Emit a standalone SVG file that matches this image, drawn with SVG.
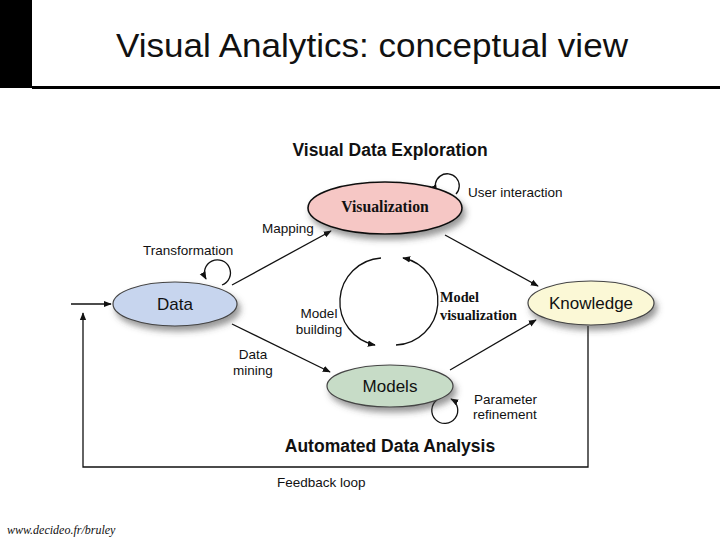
<svg xmlns="http://www.w3.org/2000/svg" width="720" height="540" viewBox="0 0 720 540">
<defs>
<style>
.sans{font-family:"Liberation Sans",Arial,sans-serif;fill:#111}
.lbl{font-size:13.5px}
.node-t{font-size:17px}
.head{font-size:17.5px;font-weight:bold}
.serif{font-family:"Liberation Serif","Times New Roman",serif;fill:#111}
.sb{font-weight:bold}
.conn{fill:none;stroke:#111;stroke-width:1.3}
.el{stroke:#444;stroke-width:1.2}
</style>
<marker id="ah" viewBox="0 0 10 10" refX="9" refY="5" markerWidth="8" markerHeight="8" markerUnits="userSpaceOnUse" orient="auto">
<path d="M0,1 L10,5 L0,9 Z" fill="#111"/>
</marker>
<filter id="sh" x="-20%" y="-30%" width="150%" height="180%">
<feDropShadow dx="3" dy="5" stdDeviation="3" flood-color="#444" flood-opacity="0.55"/>
</filter>
</defs>
<rect width="720" height="540" fill="#fff"/>
<rect x="0" y="0" width="32" height="88" fill="#000"/>
<rect x="32" y="86" width="688" height="3" fill="#000"/>
<text class="sans" x="372" y="57" font-size="33" text-anchor="middle" textLength="512" lengthAdjust="spacingAndGlyphs">Visual Analytics: conceptual view</text>

<text class="sans head" x="390" y="156" text-anchor="middle">Visual Data Exploration</text>
<text class="sans head" x="390" y="452" text-anchor="middle">Automated Data Analysis</text>

<g id="connectors">
<line class="conn" x1="232" y1="285" x2="331" y2="231" marker-end="url(#ah)"/>
<line class="conn" x1="445" y1="235" x2="538" y2="286" marker-end="url(#ah)"/>
<line class="conn" x1="232" y1="324" x2="330" y2="372" marker-end="url(#ah)"/>
<line class="conn" x1="450" y1="370" x2="536" y2="320" marker-end="url(#ah)"/>
<path class="conn" d="M381,258 A44,44 0 0 0 375,345" marker-end="url(#ah)"/>
<path class="conn" d="M396,345 A44,44 0 0 0 403,258" marker-end="url(#ah)"/>
<path class="conn" d="M456,194 A12,12 0 1 0 437,192" marker-end="url(#ah)"/>
<path class="conn" d="M222,285 A13,13 0 1 0 206,279" marker-end="url(#ah)"/>
<path class="conn" d="M437,400 A13,13 0 1 0 451,399" marker-end="url(#ah)"/>
<line class="conn" x1="71" y1="304" x2="111" y2="304" marker-end="url(#ah)"/>
<polyline class="conn" points="588,326 588,467 83,467 83,313" marker-end="url(#ah)"/>
</g>

<g id="node-visualization">
<ellipse cx="385" cy="208" rx="77" ry="26" fill="#f6c7c5" stroke="#111" stroke-width="1.6" filter="url(#sh)"/>
<text class="serif sb" x="385" y="212" font-size="15.7" text-anchor="middle">Visualization</text>
</g>
<g id="node-data">
<ellipse cx="175" cy="304" rx="62" ry="22" class="el" fill="#c7d5ee" filter="url(#sh)"/>
<text class="sans node-t" x="175" y="310" text-anchor="middle">Data</text>
</g>
<g id="node-knowledge">
<ellipse cx="591" cy="303" rx="63" ry="22" class="el" fill="#fbf8d6" filter="url(#sh)"/>
<text class="sans node-t" x="591" y="309" text-anchor="middle">Knowledge</text>
</g>
<g id="node-models">
<ellipse cx="390" cy="386" rx="63" ry="21" class="el" fill="#c7dcc7" filter="url(#sh)"/>
<text class="sans node-t" x="390" y="392" text-anchor="middle" fill="#1d2b1d">Models</text>
</g>

<g id="labels">
<text class="sans lbl" x="468" y="197">User interaction</text>
<text class="sans lbl" x="262" y="233">Mapping</text>
<text class="sans lbl" x="143" y="255">Transformation</text>
<text class="sans lbl" x="319" y="318" text-anchor="middle">Model</text>
<text class="sans lbl" x="319" y="334" text-anchor="middle">building</text>
<text class="sans lbl" x="253" y="359" text-anchor="middle">Data</text>
<text class="sans lbl" x="253" y="375" text-anchor="middle">mining</text>
<text class="serif sb" x="440" y="302" font-size="14.3">Model</text>
<text class="serif sb" x="440" y="320" font-size="14.3">visualization</text>
<text class="sans lbl" x="474" y="404">Parameter</text>
<text class="sans lbl" x="473" y="419">refinement</text>
<text class="sans lbl" x="277" y="487">Feedback loop</text>
</g>
<text class="serif" x="7" y="534" font-size="12" font-style="italic">www.decideo.fr/bruley</text>
</svg>
